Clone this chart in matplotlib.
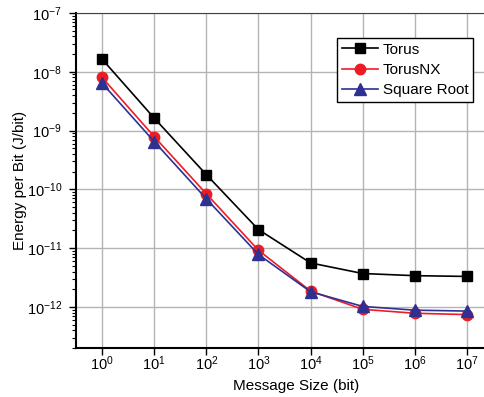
import matplotlib.pyplot as plt
import matplotlib.ticker as ticker

plt.rcParams['font.family'] = ['Liberation Sans', 'DejaVu Sans']
plt.rcParams['mathtext.fontset'] = 'custom'
plt.rcParams['mathtext.rm'] = 'Liberation Sans'
plt.rcParams['mathtext.it'] = 'Liberation Sans:italic'
plt.rcParams['mathtext.bf'] = 'Liberation Sans:bold'
plt.rcParams['axes.unicode_minus'] = False

# message sizes (bit) and energy per bit (J/bit)
msg_size = [1e0, 1e1, 1e2, 1e3, 1e4, 1e5, 1e6, 1e7]
torus = [1.64e-8, 1.63e-9, 1.78e-10, 2.07e-11, 5.6e-12, 3.7e-12, 3.4e-12, 3.3e-12]
torus_nx = [8.0e-9, 7.9e-10, 8.4e-11, 9.2e-12, 1.86e-12, 9.1e-13, 7.8e-13, 7.4e-13]
square_root = [6.4e-9, 6.5e-10, 6.9e-11, 7.8e-12, 1.81e-12, 1.02e-12, 8.8e-13, 8.5e-13]

W, H = 485, 397
fig = plt.figure(figsize=(W / 100, H / 100), dpi=100)
ax = fig.add_axes([76 / W, (H - 348) / H, 417 / W, 335 / H])

ax.plot(msg_size, torus, color='black', marker='s', markersize=7, lw=1.2, label='Torus')
ax.plot(msg_size, torus_nx, color='#ed1c24', marker='o', markersize=7.5, lw=1.2, label='TorusNX')
ax.plot(msg_size, square_root, color='#2e3192', marker='^', markersize=8, lw=1.2, label='Square Root')

ax.set_xscale('log')
ax.set_yscale('log')
ax.set_xlim(10 ** -0.5, 10 ** 7.5)
ax.set_ylim(2e-13, 1e-7)

ax.xaxis.set_major_locator(ticker.FixedLocator(msg_size))
ax.xaxis.set_minor_locator(ticker.NullLocator())
ax.yaxis.set_major_locator(ticker.LogLocator(base=10, numticks=10))
ax.yaxis.set_minor_locator(ticker.LogLocator(base=10, subs=range(2, 10), numticks=10))
ax.yaxis.set_minor_formatter(ticker.NullFormatter())

ax.grid(True, which='major', color='#b4b4b4', lw=1)
ax.set_axisbelow(True)
ax.tick_params(which='major', direction='out', length=5, width=1, labelsize=10.5)
ax.tick_params(axis='y', which='major', pad=5)
ax.tick_params(axis='x', which='major', pad=-0.5)
ax.tick_params(which='minor', direction='out', length=3, width=0.8)
for s in ['left', 'bottom']:
    ax.spines[s].set_linewidth(1.5)
ax.spines['top'].set_color('#404040')

ax.set_xlabel('Message Size (bit)', fontsize=11)
ax.set_ylabel('Energy per Bit (J/bit)', fontsize=11)
ax.xaxis.set_label_coords((296 - 76) / 417, -0.092)
ax.yaxis.set_label_coords(-0.1175, 0.5)

leg = ax.legend(loc='upper left', bbox_to_anchor=(261 / 417, 1 - 25 / 335), fontsize=11,
                numpoints=1, handlelength=2.4, fancybox=False, framealpha=1,
                edgecolor='black', borderpad=0.3, labelspacing=0.42, handletextpad=0.3,
                borderaxespad=0)
leg.get_frame().set_linewidth(1)

fig.savefig('out.png', dpi=100)
